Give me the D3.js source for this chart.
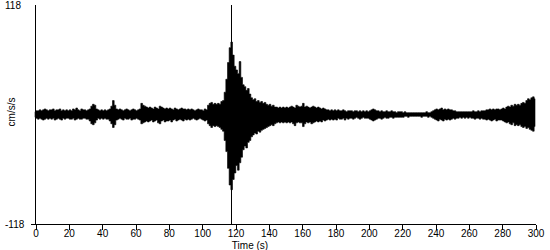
<!DOCTYPE html>
<html lang="en">
<head>
  <meta charset="UTF-8">
  <title>Accelerogram</title>
  <script src="https://d3js.org/d3.v7.min.js"></script>
  <style>
    body { margin: 0; background: #fff; overflow: hidden; }
    svg { display: block; }
    text { font-family: Arial, "Liberation Sans", sans-serif; font-size: 10px; fill: #000; }
    .axis path, .axis line { stroke: #000; shape-rendering: crispEdges; }
  </style>
</head>
<body>
<svg width="550" height="250"></svg>
<script>
// one envelope value per second, t = 0 .. 300 s (cm/s/s)
const upper = [
  3,4,4,5,4,5,6,5,4,5,
  5,6,4,5,5,6,4,5,4,5,
  4,5,4,6,5,7,5,4,6,5,
  5,4,5,6,9,11,10,6,5,4,
  5,4,5,4,5,6,9,15,10,6,
  5,6,5,4,5,6,5,4,5,6,
  5,4,5,6,12,10,9,8,7,8,
  7,6,8,7,6,9,8,7,6,7,
  6,7,6,5,7,6,5,6,7,6,
  6,5,6,5,6,5,4,5,6,5,
  5,4,6,5,10,12,13,11,12,11,
  12,11,14,15,24,38,56,72,78,64,
  52,48,44,57,40,32,30,26,28,22,
  18,16,17,14,15,13,14,12,13,11,
  10,11,9,10,8,8,7,8,7,8,
  7,8,7,8,9,8,7,10,9,8,
  9,12,8,9,8,7,8,9,8,7,
  8,7,6,7,6,5,5,4,5,4,
  5,4,5,4,4,5,4,3,4,4,
  4,3,4,4,3,4,3,4,3,4,
  3,4,5,6,5,4,4,3,4,3,
  3,4,3,3,4,3,3,2,3,3,
  3,2,3,2,2,2,2,2,2,2,
  2,2,2,2,2,3,2,2,3,4,
  5,6,5,6,7,5,6,5,6,5,
  5,4,4,3,3,3,3,3,3,3,
  3,3,3,4,3,3,4,3,4,4,
  4,5,5,6,5,6,5,6,6,5,
  6,7,6,8,9,8,10,9,11,10,
  11,10,12,13,12,15,17,16,18,19,
  17
];
const lower = [
  -3,-4,-5,-4,-5,-6,-5,-4,-5,-4,
  -5,-4,-6,-5,-4,-5,-6,-4,-5,-4,
  -4,-5,-5,-4,-6,-5,-4,-5,-5,-4,
  -4,-5,-5,-7,-10,-11,-9,-6,-4,-5,
  -4,-5,-4,-5,-5,-7,-10,-14,-11,-6,
  -5,-4,-5,-6,-4,-5,-5,-4,-6,-5,
  -5,-4,-5,-6,-10,-9,-8,-7,-8,-7,
  -6,-8,-7,-6,-9,-10,-7,-6,-8,-7,
  -7,-6,-8,-6,-5,-7,-6,-5,-6,-7,
  -5,-6,-5,-6,-5,-4,-5,-6,-5,-4,
  -5,-6,-7,-6,-10,-12,-14,-12,-13,-12,
  -13,-14,-16,-18,-28,-40,-58,-76,-81,-70,
  -63,-55,-60,-52,-46,-38,-34,-36,-30,-28,
  -24,-22,-20,-21,-18,-19,-17,-16,-15,-14,
  -13,-12,-11,-12,-10,-9,-8,-9,-8,-9,
  -8,-9,-8,-9,-8,-10,-12,-9,-8,-9,
  -9,-13,-10,-8,-9,-8,-10,-9,-8,-7,
  -8,-7,-8,-6,-7,-6,-5,-6,-5,-6,
  -5,-6,-4,-5,-5,-4,-6,-4,-5,-4,
  -4,-5,-4,-3,-4,-5,-4,-3,-4,-4,
  -4,-5,-6,-7,-6,-5,-4,-4,-5,-4,
  -3,-4,-4,-3,-3,-4,-3,-3,-3,-3,
  -3,-3,-2,-2,-3,-2,-2,-2,-2,-2,
  -2,-2,-3,-2,-2,-2,-3,-2,-3,-4,
  -5,-6,-7,-5,-6,-7,-5,-6,-5,-6,
  -5,-4,-5,-4,-4,-3,-4,-3,-4,-3,
  -4,-3,-4,-4,-5,-4,-4,-5,-4,-5,
  -5,-6,-5,-6,-7,-6,-5,-7,-6,-6,
  -6,-7,-8,-9,-8,-10,-11,-9,-12,-11,
  -12,-11,-13,-14,-13,-15,-14,-16,-17,-18,
  -13
];
const xTicks = [0, 20, 40, 60, 80, 100, 120, 140, 160, 180, 200, 220, 240, 260, 280, 300];
const yTicks = [-118, 118];
const pickTime = 117.6;   // marker line
const xTitle = 'Time (s)';
const yTitle = 'cm/s/s';

const svg = d3.select('svg');

const x = d3.scaleLinear().domain([0, 300]).range([35, 535]);
const y = d3.scaleLinear().domain([-118, 118]).range([224, 5]);

const samples = upper.map((u, i) => ({ t: i, hi: u, lo: lower[i] }));

// waveform envelope
const area = d3.area()
  .x(d => x(d.t))
  .y0(d => y(d.lo))
  .y1(d => y(d.hi))
  .curve(d3.curveStep);

svg.append('path')
  .datum(samples)
  .attr('d', area)
  .attr('fill', '#000')
  .attr('stroke', '#000')
  .attr('stroke-width', 0.6);

// marker line
svg.append('line')
  .attr('x1', Math.round(x(pickTime)) + 0.5)
  .attr('x2', Math.round(x(pickTime)) + 0.5)
  .attr('y1', y(118))
  .attr('y2', y(-118))
  .attr('stroke', '#000')
  .attr('shape-rendering', 'crispEdges');

// x axis
const gx = svg.append('g')
  .attr('class', 'axis')
  .attr('transform', 'translate(0.5,224.5)')
  .call(d3.axisBottom(x).tickValues(xTicks).tickSizeOuter(0).tickSize(5).tickPadding(0));
gx.select('.domain').attr('d', `M${x(0) - 5},0H${x(300)}`);
gx.selectAll('text').attr('font-family', null).attr('font-size', null);

// y axis
const gy = svg.append('g')
  .attr('class', 'axis')
  .attr('transform', 'translate(35.5,0)')
  .call(d3.axisLeft(y).tickValues(yTicks).tickFormat(d => String(d)).tickSize(0).tickSizeOuter(0));
gy.selectAll('.tick line').remove();
gy.selectAll('text')
  .attr('font-family', null).attr('font-size', null)
  .attr('text-anchor', 'start')
  .attr('x', -30.5);
gy.select('.domain').attr('d', `M0,${y(118)}V${y(-118)}`);

// titles
svg.append('text')
  .attr('x', 250)
  .attr('y', 249)
  .attr('text-anchor', 'middle')
  .text(xTitle);

svg.append('text')
  .attr('transform', 'translate(15,112) rotate(-90)')
  .attr('text-anchor', 'middle')
  .text(yTitle);
</script>
</body>
</html>
